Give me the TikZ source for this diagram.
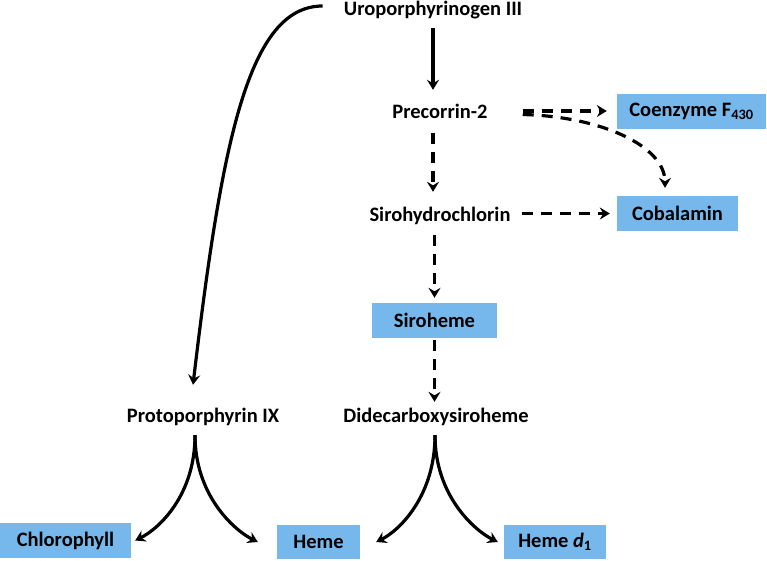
\documentclass[tikz,border=0pt]{standalone}
\usepackage{fontspec}
\setmainfont{Carlito}
\usetikzlibrary{arrows.meta}
\definecolor{boxblue}{RGB}{118,183,236}
\tikzset{
  x=1pt,y=1pt,
  lbl/.style={inner sep=0pt, text height=14pt, text depth=5pt, anchor=base,
    font=\fontsize{20.5}{24}\selectfont\bfseries},
  bluebox/.style={fill=boxblue, inner sep=0pt, minimum height=35pt,
    font=\fontsize{20.5}{24}\selectfont\bfseries},
  conn/.style={line width=3.2pt, -{Stealth[length=10pt,width=12pt,inset=3.5pt]}},
  dconn/.style={conn, dash pattern=on 11pt off 8pt},
}
\begin{document}
\begin{tikzpicture}
\useasboundingbox (0,0) rectangle (767,-560);
% labels
\node[lbl] (uro) at (433,-15) {Uroporphyrinogen III};
\node[lbl] (pre) at (440,-118) {Precorrin-2};
\node[lbl] (sir) at (440,-221) {Sirohydrochlorin};
\node[lbl] (pp)  at (203,-422) {Protoporphyrin IX};
\node[lbl] (dd)  at (436,-422) {Didecarboxysiroheme};
% boxes
\node[bluebox, minimum width=149pt] (cof) at (691.5,-111) {Coenzyme F\textsubscript{430}};
\node[bluebox, minimum width=121pt] (cob) at (677.5,-213.5) {Cobalamin};
\node[bluebox, minimum width=125pt] (sh)  at (434.5,-320.5) {Siroheme};
\node[bluebox, minimum width=131pt] (chl) at (65.5,-540.5) {Chlorophyll};
\node[bluebox, minimum width=83pt, minimum height=34pt]  (hem) at (318.5,-542) {Heme};
\node[bluebox, minimum width=102pt, minimum height=34pt] (hd)  at (555,-542) {Heme \textit{d}\textsubscript{1}};
% fork points
\coordinate (ppfork) at ([xshift=-8pt,yshift=-8pt]pp.south);
\coordinate (ddfork) at ([xshift=-1pt,yshift=-8pt]dd.south);
% connectors
\draw[conn, shorten <=8pt, shorten >=14pt] (uro.south) -- (uro.south |- pre.north);
\draw[conn] ([shift={(-21pt,4.5pt)}]uro.west) .. controls +(-74,0) and +(29,245) .. ([xshift=-2pt,yshift=23pt]ppfork |- pp.north);
\draw[dconn, shorten <=35pt, shorten >=10pt] (pre.east |- cof.west) -- (cof.west);
\draw[dconn, shorten >=8pt] ([xshift=35pt,yshift=-1pt]pre.east) .. controls +(78,-2) and +(0,50) .. ([xshift=-12.5pt]cob.north);
\draw[dconn, shorten <=10pt, shorten >=15pt] (uro.south |- pre.south) -- (uro.south |- sir.north);
\draw[dconn, shorten <=11pt, shorten >=7pt] (sir.east |- cob.west) -- (cob.west);
\draw[dconn, shorten <=9pt, shorten >=5pt] (sh.north |- sir.south) -- (sh.north);
\draw[dconn, shorten <=2pt, shorten >=6pt] (sh.south) -- (sh.south |- dd.north);
% forks
\draw[conn] (ppfork) .. controls +(0,-60) and +(24,12) .. ([xshift=4pt]chl.east);
\draw[conn] (ppfork) .. controls +(0,-60) and +(-24,12) .. ([xshift=-19pt]hem.west);
\draw[conn] (ddfork) .. controls +(0,-60) and +(24,12) .. ([xshift=16pt]hem.east);
\draw[conn] (ddfork) .. controls +(0,-60) and +(-24,12) .. ([xshift=-6pt]hd.west);
\end{tikzpicture}
\end{document}
